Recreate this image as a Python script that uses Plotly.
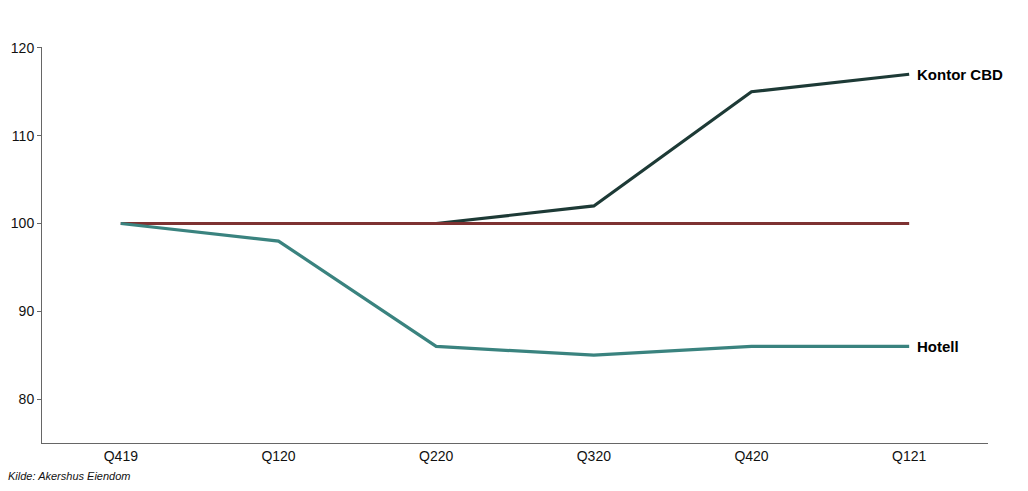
import plotly.graph_objects as go

quarters = ["Q419", "Q120", "Q220", "Q320", "Q420", "Q121"]
kontor_cbd = [100, 100, 100, 102, 115, 117]
basis = [100, 100, 100, 100, 100, 100]
hotell = [100, 98, 86, 85, 86, 86]

fig = go.Figure()
fig.add_trace(go.Scatter(x=quarters, y=kontor_cbd, mode="lines", name="Kontor CBD",
                         line=dict(color="#1d3a36", width=3.2)))
fig.add_trace(go.Scatter(x=quarters, y=basis, mode="lines", name="Basis",
                         line=dict(color="#7e3232", width=3.2)))
fig.add_trace(go.Scatter(x=quarters, y=hotell, mode="lines", name="Hotell",
                         line=dict(color="#3a837f", width=3.2)))

for name, vals in [("Kontor CBD", kontor_cbd), ("Hotell", hotell)]:
    fig.add_annotation(x=quarters[-1], y=vals[-1], text="<b>" + name + "</b>",
                       showarrow=False, xanchor="left", xshift=6,
                       font=dict(family="Arial, Liberation Sans", size=15, color="#000"))

fig.add_annotation(xref="paper", yref="paper", x=-0.038, y=-0.062, xanchor="left", yanchor="top",
                   text="<i>Kilde: Akershus Eiendom</i>", showarrow=False,
                   font=dict(family="Arial, Liberation Sans", size=11, color="#111"))

fig.update_layout(
    width=1028, height=491,
    margin=dict(l=42, r=40, t=47, b=48),
    plot_bgcolor="white", paper_bgcolor="white",
    showlegend=False,
    font=dict(family="Arial, Liberation Sans", size=14, color="#111"),
)
fig.update_xaxes(range=[-0.5, 5.5], showline=True, linecolor="#666", linewidth=1,
                 showgrid=False, zeroline=False, ticks="", tickfont=dict(size=14))
fig.update_yaxes(range=[75, 120.1], showline=True, linecolor="#666", linewidth=1,
                 showgrid=False, zeroline=False, ticks="outside", ticklen=4, tickcolor="#666",
                 tickvals=[80, 90, 100, 110, 120], tickfont=dict(size=14))

fig.write_html("out.html", config={"displayModeBar": False},
               post_script="document.body.style.margin='0';document.body.style.overflow='hidden';")
